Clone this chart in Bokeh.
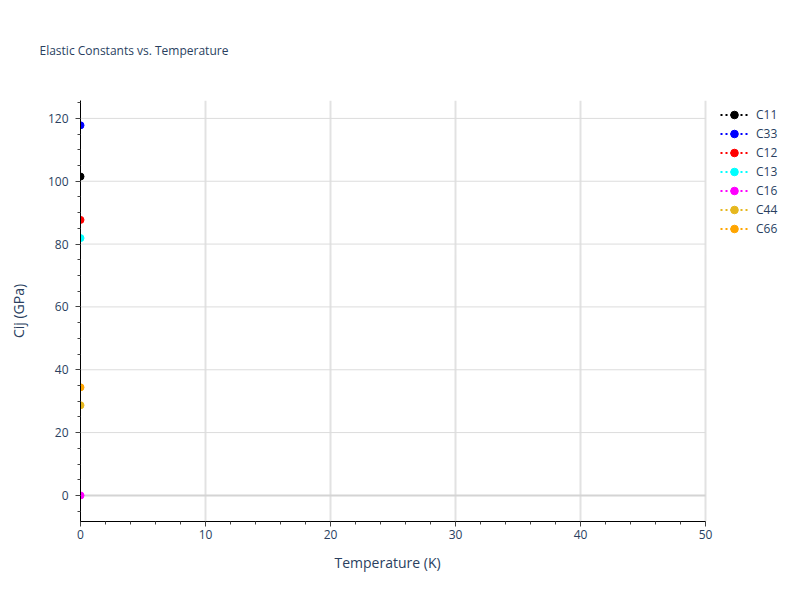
from bokeh.plotting import figure
from bokeh.models import (ColumnDataSource, Legend, LegendItem, FixedTicker,
                          Range1d, Title)
from bokeh.embed import file_html
from bokeh.resources import INLINE

# ---- data ----
series_names = ["C11", "C33", "C12", "C13", "C16", "C44", "C66"]
series_colors = ["black", "blue", "red", "cyan", "magenta", "#e6b71e", "orange"]
temperature = [0.0]
C11 = [101.5]
C33 = [117.8]
C12 = [87.7]
C13 = [81.9]
C16 = [0.0]
C44 = [28.7]
C66 = [34.4]
series_values = [C11, C33, C12, C13, C16, C44, C66]

x_major = [0, 10, 20, 30, 40, 50]
y_major = [0, 20, 40, 60, 80, 100, 120]
x_min, x_max = 0, 50

FONT = "Open Sans"
TXT = "#2a3f5f"

W, H = 800, 600
L, R, T, B = 80, 0, 100, 79
PX_PER_X = 12.5  # plot area 625 px wide for 0..50
frame_w = W - L - R
x_end = frame_w / PX_PER_X

p = figure(width=W, height=H, output_backend="svg", toolbar_location=None,
           x_range=Range1d(x_min, x_end), y_range=Range1d(-8.3, 125.7),
           min_border_left=L, min_border_right=R, min_border_top=T,
           min_border_bottom=B,
           title="Elastic Constants vs. Temperature")
p.outline_line_color = None
p.background_fill_color = "white"

p.title.text_font = FONT
p.title.text_font_size = "12px"
p.title.text_font_style = "normal"
p.title.text_color = TXT
p.title.align = "left"
p.title.vertical_align = "top"
p.title.offset = -41
p.title.standoff = 80

# grid lines (horizontal), limited to the axis extent
grid_src = ColumnDataSource(dict(x0=[x_min] * (len(y_major) - 1),
                                 x1=[x_max] * (len(y_major) - 1),
                                 y=[v for v in y_major if v != 0]))
p.segment("x0", "y", "x1", "y", source=grid_src, line_color="#dcdcdc",
          line_width=1)
zero_src = ColumnDataSource(dict(x0=[x_min], x1=[x_max], y=[0]))
p.segment("x0", "y", "x1", "y", source=zero_src, line_color="#d4d4d4",
          line_width=2)

items = []
for name, color, vals in zip(series_names, series_colors, series_values):
    src = ColumnDataSource(dict(x=temperature, y=vals))
    ln = p.line("x", "y", source=src, line_color=color, line_width=2,
                line_dash="2 3")
    sc = p.scatter("x", "y", source=src, size=7, fill_color=color,
                   line_color=color)
    items.append(LegendItem(label=name, renderers=[ln, sc]))

# axes
p.xaxis.ticker = FixedTicker(ticks=x_major, minor_ticks=list(range(0, 51, 2)))
p.yaxis.ticker = FixedTicker(ticks=y_major, minor_ticks=list(range(-5, 126, 5)))
p.xaxis.bounds = (x_min, x_max)
for ax in (p.xaxis[0], p.yaxis[0]):
    ax.axis_line_color = "black"
    ax.axis_line_width = 1
    ax.major_tick_line_color = "#444444"
    ax.minor_tick_line_color = "#444444"
    ax.major_tick_out = 5
    ax.major_tick_in = 0
    ax.minor_tick_out = 3
    ax.minor_tick_in = 0
    ax.major_label_text_font = FONT
    ax.major_label_text_font_size = "12px"
    ax.major_label_text_color = TXT
    ax.axis_label_text_font = FONT
    ax.axis_label_text_font_size = "14px"
    ax.axis_label_text_color = TXT
    ax.axis_label_text_font_style = "normal"
p.yaxis.axis_label = "Cij (GPa)"
p.xaxis.major_label_standoff = 3
p.yaxis.major_label_standoff = 7
p.yaxis.axis_label_standoff = 17

# x-axis title, centred under the 0..50 axis extent
xt = Title(text="Temperature (K)", align="left", offset=254, standoff=18,
           text_font=FONT, text_font_size="14px", text_font_style="normal",
           text_color=TXT)
p.add_layout(xt, "below")

p.xgrid.grid_line_color = "#e2e2e2"
p.xgrid.grid_line_width = 2
p.ygrid.visible = False

legend = Legend(items=items, location=(640, 283), orientation="vertical",
                glyph_width=28, glyph_height=19, label_height=19,
                label_standoff=8, spacing=0, padding=0, margin=0,
                label_text_font=FONT, label_text_font_size="12px",
                label_text_color=TXT, border_line_color=None,
                background_fill_alpha=0)
p.add_layout(legend)

open("out.html", "w").write(file_html(p, INLINE))
